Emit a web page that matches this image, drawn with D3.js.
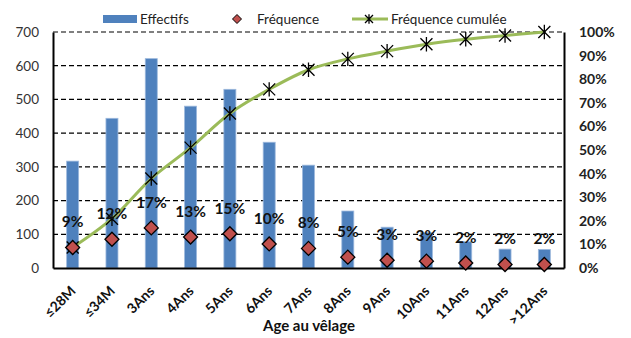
<!DOCTYPE html>
<html>
<head>
<meta charset="utf-8">
<script src="https://cdn.jsdelivr.net/npm/d3@7"></script>
<style>
  body { margin: 0; background: #fff; }
  svg { font-family: Lato, "Open Sans", sans-serif; }
</style>
</head>
<body>
<svg width="631" height="338"></svg>
<script>
    // data
    const categories = ['≤28M', '≤34M', '3Ans', '4Ans', '5Ans', '6Ans', '7Ans', '8Ans', '9Ans', '10Ans', '11Ans', '12Ans', '>12Ans'];
    const effectifs = [317, 444, 621, 480, 530, 373, 305, 169, 121, 105, 78, 56, 55];
    const frequence = [8.7, 12.2, 17.0, 13.1, 14.5, 10.2, 8.3, 4.6, 3.3, 2.9, 2.1, 1.5, 1.5];
    const cumulee = [8.7, 20.9, 37.9, 51.0, 65.5, 75.7, 84.0, 88.6, 91.9, 94.8, 96.9, 98.5, 100];
    const labels = ['9%', '12%', '17%', '13%', '15%', '10%', '8%', '5%', '3%', '3%', '2%', '2%', '2%'];
    const leftTicks = [0, 100, 200, 300, 400, 500, 600, 700];
    const rightTicks = [0, 10, 20, 30, 40, 50, 60, 70, 80, 90, 100];

    const svg = d3.select('svg');
    const margin = { top: 32, right: 67, bottom: 70, left: 53 };
    const width = 631 - margin.left - margin.right;
    const height = 338 - margin.top - margin.bottom;

    const g = svg.append('g')
      .attr('transform', 'translate(' + margin.left + ',' + margin.top + ')');

    // scales
    const xScale = d3.scaleBand()
      .domain(categories)
      .range([0, width]);
    const yScale = d3.scaleLinear()
      .domain([0, 700])
      .range([height, 0]);
    const yRight = d3.scaleLinear()
      .domain([0, 100])
      .range([height, 0]);

    // dashed grid
    g.selectAll('.grid')
      .data(leftTicks.slice(1))
      .enter().append('line')
      .attr('x1', 0)
      .attr('x2', width)
      .attr('y1', d => yScale(d))
      .attr('y2', d => yScale(d))
      .attr('stroke', '#000')
      .attr('stroke-width', 1.2)
      .attr('stroke-dasharray', '5,3');

    // bars
    const barW = 12;
    g.selectAll('.bar')
      .data(effectifs)
      .enter().append('rect')
      .attr('x', (d, i) => xScale(categories[i]) + xScale.bandwidth() / 2 - barW / 2)
      .attr('y', d => yScale(d))
      .attr('width', barW)
      .attr('height', d => height - yScale(d))
      .attr('fill', '#4F81BD')
      .attr('stroke', '#9DB9DD')
      .attr('stroke-width', 0.8);

    // axes
    const yAxis = d3.axisLeft(yScale).tickValues(leftTicks).tickSize(0).tickPadding(14);
    const gY = g.append('g').call(yAxis);
    gY.select('.domain').attr('stroke', '#000').attr('stroke-width', 2);
    gY.selectAll('text')
      .attr('font-size', 13.5)
      .attr('fill', '#333')
      .style('font-family', 'Lato, sans-serif');

    const yAxisR = d3.axisRight(yRight).tickValues(rightTicks).tickSize(0).tickPadding(15)
      .tickFormat(d => d + '%');
    const gR = g.append('g')
      .attr('transform', 'translate(' + width + ',0)')
      .call(yAxisR);
    gR.select('.domain').attr('stroke', '#000').attr('stroke-width', 2);
    gR.selectAll('text')
      .attr('font-size', 14)
      .attr('font-weight', 'bold')
      .attr('fill', '#222')
      .style('font-family', 'Lato, sans-serif');

    const xAxis = d3.axisBottom(xScale).tickSize(0);
    const gX = g.append('g')
      .attr('transform', 'translate(0,' + height + ')')
      .call(xAxis);
    gX.select('.domain').attr('stroke', '#000').attr('stroke-width', 2.2);
    gX.selectAll('text')
      .attr('font-size', 14)
      .attr('font-weight', 'bold')
      .attr('fill', '#111')
      .style('font-family', 'Lato, sans-serif')
      .attr('text-anchor', 'end')
      .attr('y', 0)
      .attr('dy', null)
      .attr('transform', 'translate(4,24) rotate(-45)');

    // axis title
    svg.append('text')
      .attr('x', 309)
      .attr('y', 331)
      .attr('text-anchor', 'middle')
      .attr('font-size', 15)
      .attr('font-weight', 'bold')
      .attr('fill', '#111')
      .text('Age au vêlage');

    const cx = i => xScale(categories[i]) + xScale.bandwidth() / 2;

    // cumulative line
    const line = d3.line()
      .x((d, i) => cx(i))
      .y(d => yRight(d))
      .curve(d3.curveCatmullRom.alpha(0.5));
    g.append('path')
      .datum(cumulee)
      .attr('d', line)
      .attr('fill', 'none')
      .attr('stroke', '#9BBB59')
      .attr('stroke-width', 3);

    function star(sel, s) {
      sel.append('path')
        .attr('d', 'M' + (-s) + ',' + (-s) + 'L' + s + ',' + s + 'M' + (-s) + ',' + s + 'L' + s + ',' + (-s) + 'M0,' + (-s * 1.2) + 'L0,' + (s * 1.2))
        .attr('stroke', '#000')
        .attr('stroke-width', 1.3)
        .attr('fill', 'none');
    }
    const stars = g.selectAll('.star')
      .data(cumulee)
      .enter().append('g')
      .attr('transform', (d, i) => 'translate(' + cx(i) + ',' + yRight(d) + ')');
    star(stars, 6);

    // frequency diamonds
    const diamond = 'M0,-7L7,0L0,7L-7,0Z';
    g.selectAll('.freq')
      .data(frequence)
      .enter().append('path')
      .attr('d', diamond)
      .attr('transform', (d, i) => 'translate(' + cx(i) + ',' + yRight(d) + ')')
      .attr('fill', '#C0504D')
      .attr('stroke', '#000')
      .attr('stroke-width', 1.3);

    // data labels
    g.selectAll('.lbl')
      .data(frequence)
      .enter().append('text')
      .attr('x', (d, i) => cx(i))
      .attr('y', d => yRight(d) - 20)
      .attr('text-anchor', 'middle')
      .attr('font-size', 15.5)
      .attr('font-weight', 'bold')
      .attr('fill', '#111')
      .text((d, i) => labels[i]);

    // legend
    const leg = svg.append('g').attr('font-size', 13.5).attr('fill', '#222');
    leg.append('rect')
      .attr('x', 103).attr('y', 15).attr('width', 34).attr('height', 8)
      .attr('fill', '#4F81BD');
    leg.append('text').attr('x', 140).attr('y', 24).text('Effectifs');
    leg.append('path')
      .attr('d', 'M0,-4.5L4.5,0L0,4.5L-4.5,0Z')
      .attr('transform', 'translate(237,19)')
      .attr('fill', '#C0504D')
      .attr('stroke', '#000')
      .attr('stroke-width', 1);
    leg.append('text').attr('x', 257).attr('y', 24).text('Fréquence');
    leg.append('line')
      .attr('x1', 352).attr('x2', 388).attr('y1', 19).attr('y2', 19)
      .attr('stroke', '#9BBB59').attr('stroke-width', 3);
    star(leg.append('g').attr('transform', 'translate(369,19)'), 4);
    leg.append('text').attr('x', 391).attr('y', 24).text('Fréquence cumulée');
</script>
</body>
</html>
